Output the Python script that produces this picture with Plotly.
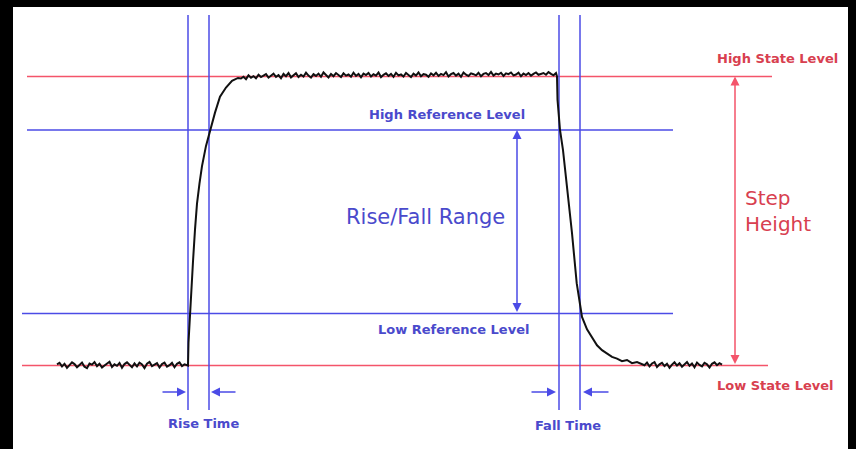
import numpy as np
import plotly.graph_objects as go

# time in us, level normalised (low state = 0, high state = 1)
LOW_STATE = 0.0
HIGH_STATE = 1.0
LOW_REF = 0.18
HIGH_REF = 0.815

RISE_T = [13.1, 15.2]
FALL_T = [50.2, 52.3]
STEP = 0.25

# waveform pieces
low_start_v = [0.004, 0.009, -0.003, 0.006, -0.008, 0.001, 0.011, 0.005, -0.006, 0.002,
               0.010, -0.004, -0.009, 0.007, 0.003, 0.012, -0.002, 0.006, -0.007, 0.000,
               0.008, 0.013, -0.005, 0.004, -0.001, 0.009, -0.008, 0.005, 0.011, 0.002,
               -0.006, 0.007, -0.003, 0.010, 0.004, -0.009, 0.006, 0.012, -0.002, 0.003,
               0.008, -0.007, 0.005, 0.010, -0.004, 0.001, 0.009, -0.006, 0.006, 0.011,
               -0.002, 0.004]
low_start_t = 0.0 + STEP * np.arange(len(low_start_v))

rise_t = [13.1, 13.15, 13.25, 13.4, 13.6, 13.8, 14.0, 14.25, 14.5, 14.9, 15.3, 15.8,
          16.3, 16.9, 17.5, 18.1]
rise_v = [0.0, 0.08, 0.15, 0.24, 0.36, 0.47, 0.56, 0.63, 0.69, 0.76, 0.815, 0.875,
          0.93, 0.962, 0.985, 0.995]

high_v = [0.993, 0.999, 0.991, 1.004, 0.996, 1.001, 0.994, 1.006, 0.998, 1.003,
          1.008, 0.996, 1.002, 1.010, 0.999, 1.005, 0.994, 1.009, 1.001, 1.012,
          0.997, 1.004, 1.011, 0.998, 1.006, 1.000, 1.013, 1.003, 0.996, 1.008,
          1.002, 1.010, 0.999, 1.014, 1.004, 0.997, 1.009, 1.001, 1.012, 1.006,
          0.998, 1.011, 1.003, 1.007, 0.999, 1.013, 1.002, 1.009, 0.997, 1.010,
          1.005, 1.012, 1.000, 1.008, 1.003, 1.014, 0.998, 1.006, 1.011, 1.002,
          1.009, 0.999, 1.013, 1.004, 1.007, 1.000, 1.012, 1.005, 0.998, 1.010,
          1.003, 1.014, 1.001, 1.008, 1.006, 0.999, 1.011, 1.004, 1.013, 1.002,
          1.009, 1.005, 1.015, 1.000, 1.008, 1.012, 1.003, 1.010, 0.999, 1.014,
          1.006, 1.002, 1.011, 1.008, 1.004, 1.013, 1.001, 1.009, 1.012, 1.005,
          1.016, 1.003, 1.010, 1.007, 1.013, 1.002, 1.011, 1.008, 1.014, 1.004,
          1.007, 1.013, 1.001, 1.010, 1.005, 1.012, 1.003, 1.009, 1.014, 1.006,
          1.010, 1.012, 1.006, 1.015, 1.009, 1.004, 1.012]
high_t = 18.4 + STEP * np.arange(len(high_v))

fall_t = [50.0, 50.05, 50.15, 50.3, 50.6, 50.97, 51.5, 51.97, 52.5, 53.0, 53.5,
          54.0, 54.5, 55.0, 55.5, 56.0, 56.5, 57.0, 57.5, 58.0]
fall_v = [1.0, 0.92, 0.877, 0.815, 0.745, 0.63, 0.458, 0.285, 0.168, 0.125, 0.095,
          0.070, 0.053, 0.041, 0.030, 0.024, 0.015, 0.019, 0.008, 0.012]

low_end_v = [0.006, 0.001, 0.010, -0.003, 0.007, 0.012, -0.005, 0.004, 0.009, -0.002,
             0.006, -0.008, 0.003, 0.011, 0.000, 0.008, -0.004, 0.005, 0.012, -0.001,
             0.007, -0.006, 0.010, 0.002, -0.003, 0.009, 0.004, -0.007, 0.006, 0.011,
             0.001, 0.008, 0.003]
low_end_t = 58.5 + STEP * np.arange(len(low_end_v))

wave_t = list(low_start_t) + rise_t + list(high_t) + fall_t + list(low_end_t)
wave_v = low_start_v + rise_v + high_v + fall_v + low_end_v

RED = '#f4546a'
RED_TXT = '#d8404f'
BLUE = '#4b4be6'
BLUE_TXT = '#4a4acc'
FONT = 'DejaVu Sans'

fig = go.Figure()

fig.add_trace(go.Scatter(
    x=wave_t, y=wave_v, mode='lines',
    line=dict(color='#111111', width=2),
    hoverinfo='skip'
))

# level lines
levels = [
    (HIGH_STATE, -3.0, 71.5, RED),
    (HIGH_REF, -3.0, 61.6, BLUE),
    (LOW_REF, -3.5, 61.6, BLUE),
    (LOW_STATE, -3.5, 71.1, RED),
]
for yv, x0, x1, col in levels:
    fig.add_shape(type='line', x0=x0, x1=x1, y0=yv, y1=yv,
                  line=dict(color=col, width=1.5), layer='below')

# rise / fall time markers
for tv in RISE_T + FALL_T:
    fig.add_shape(type='line', x0=tv, x1=tv, y0=1.213, y1=-0.154,
                  line=dict(color=BLUE, width=1.5), layer='below')


def arrow(x, y, ax, ay, col, side='end', head=2, size=1.2):
    fig.add_annotation(x=x, y=y, ax=ax, ay=ay, xref='x', yref='y', axref='x', ayref='y',
                       text='', showarrow=True, arrowhead=head, arrowside=side,
                       arrowsize=size, arrowwidth=1.5, arrowcolor=col, standoff=0,
                       startstandoff=0)


# step height and rise/fall range double arrows
arrow(67.8, HIGH_STATE, 67.8, LOW_STATE, RED, side='end+start')
arrow(46.0, HIGH_REF, 46.0, LOW_REF, BLUE, side='end+start')

# small time arrows
ARROW_Y = -0.092
arrow(RISE_T[0] - 0.2, ARROW_Y, RISE_T[0] - 2.7, ARROW_Y, BLUE)
arrow(RISE_T[1] + 0.2, ARROW_Y, RISE_T[1] + 2.8, ARROW_Y, BLUE)
arrow(FALL_T[0] - 0.3, ARROW_Y, FALL_T[0] - 2.9, ARROW_Y, BLUE)
arrow(FALL_T[1] + 0.3, ARROW_Y, FALL_T[1] + 3.0, ARROW_Y, BLUE)

labels = [
    ('High State Level', 72.0, 1.061, RED_TXT, 13, 'bold'),
    ('Low State Level', 71.8, -0.068, RED_TXT, 13, 'bold'),
    ('High Reference Level', 39.0, 0.870, BLUE_TXT, 13, 'bold'),
    ('Low Reference Level', 39.6, 0.126, BLUE_TXT, 13, 'bold'),
    ('Rise/Fall Range', 36.8, 0.514, BLUE_TXT, 21, 'normal'),
    ('Step<br>Height', 72.1, 0.535, RED_TXT, 20, 'normal'),
    ('Rise Time', 14.6, -0.199, BLUE_TXT, 13, 'bold'),
    ('Fall Time', 51.1, -0.206, BLUE_TXT, 13, 'bold'),
]
for txt, xv, yv, col, size, weight in labels:
    fig.add_annotation(x=xv, y=yv, xref='x', yref='y', text=txt, showarrow=False,
                       align='left', font=dict(family=FONT, size=size, color=col,
                                               weight=weight))

fig.update_layout(
    width=856,
    height=449,
    margin=dict(l=13, r=8, t=7, b=0),
    paper_bgcolor='black',
    plot_bgcolor='white',
    showlegend=False,
    xaxis=dict(range=[-4.4, 79.1], visible=False, fixedrange=True),
    yaxis=dict(range=[-0.2889, 1.2405], visible=False, fixedrange=True),
)

fig.write_html("out.html", config={'displayModeBar': False},
               post_script="document.body.style.margin='0';")
